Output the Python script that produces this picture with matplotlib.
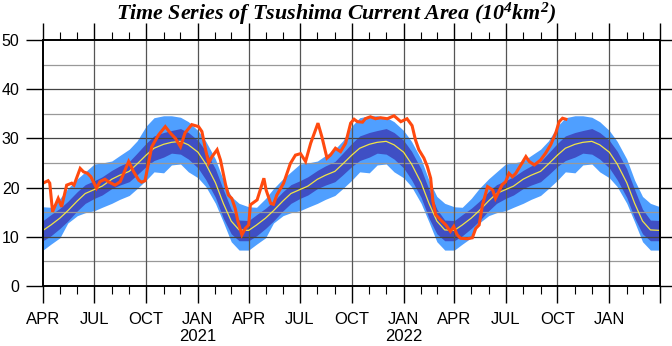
import numpy as np
import matplotlib
matplotlib.use("Agg")
import matplotlib.pyplot as plt

# climatology, one value per half month starting 1 April (days after 1 April)
clim_day = [0, 14, 30, 44, 61, 75, 91, 105, 122, 136, 153, 167, 183, 197,
            214, 228, 244, 258, 275, 289, 306, 320, 334, 348, 365]
clim_mean = [11.3, 12.4, 13.8, 15.3, 17.3, 18.8, 19.6, 20.3, 21.7, 22.5, 23.3, 24.8, 26.6, 28.0,
             28.8, 29.2, 29.4, 28.7, 27.2, 24.8, 21.0, 16.8, 13.2, 11.4, 11.3]
clim_sd_lo = [9.2, 10.2, 11.7, 13.2, 15.3, 16.8, 17.8, 18.5, 19.8, 20.5, 21.2, 22.6, 24.3, 25.5,
              26.2, 27.0, 26.8, 25.8, 24.0, 21.6, 18.0, 13.8, 10.6, 9.2, 9.2]
clim_sd_hi = [13.3, 14.5, 15.8, 17.2, 19.2, 20.6, 21.4, 22.2, 23.5, 24.4, 25.3, 27.0, 29.0, 30.5,
              31.2, 31.6, 32.0, 31.2, 29.6, 27.4, 23.8, 19.6, 15.6, 13.4, 13.3]
clim_ext_lo = [7.3, 8.5, 9.8, 12.8, 14.3, 14.9, 15.3, 16.0, 16.8, 17.6, 18.4, 19.8, 21.5, 23.2,
               23.0, 24.6, 24.8, 23.2, 22.0, 20.2, 16.8, 13.0, 9.0, 7.3, 7.3]
clim_ext_hi = [16.1, 16.0, 17.8, 19.8, 21.8, 23.2, 24.8, 25.0, 25.4, 26.5, 27.8, 29.5, 32.5, 34.2,
               34.6, 34.6, 34.3, 33.4, 31.6, 29.4, 25.8, 21.5, 18.2, 16.8, 16.1]
seasons = [2020, 2021, 2022]

# observed area, days after 1 April 2020
obs_day = [0, 9, 12, 17, 27, 33, 42, 51, 55, 66, 72, 79, 85, 95, 101, 110, 116, 128, 137,
           152, 161, 170, 175, 181, 193, 205, 217, 226, 235, 244, 252, 264, 276, 282, 288,
           294, 300, 309, 315, 324, 329, 335, 341, 346, 353, 359, 365, 368, 380, 392, 396,
           404, 409, 415, 427, 439, 448, 457, 466, 475, 488, 495, 504, 510, 519, 528, 537,
           546, 552, 558, 567, 572, 581, 590, 599, 611, 623, 635, 646, 655, 661, 667, 676,
           682, 688, 692, 697, 706, 715, 723, 729, 735, 741, 753, 762, 768, 774, 780, 789,
           798, 803, 809, 815, 821, 827, 833, 839, 848, 857, 863, 872, 883, 892, 901, 910,
           916, 922, 928]
obs_val = [20.9, 21.4, 20.9, 15.1, 17.8, 16.1, 20.5, 20.9, 20.5, 23.9, 23.2, 22.9, 22.2,
           19.9, 21.2, 21.7, 21.2, 20.5, 21.2, 25.3, 23.2, 21.5, 21.1, 21.4, 28.3, 30.7,
           32.4, 31.1, 30.0, 28.3, 31.1, 32.8, 32.4, 31.4, 28.0, 25.0, 26.3, 27.7, 25.6,
           20.6, 18.5, 17.8, 15.8, 13.1, 10.4, 11.7, 12.4, 16.5, 17.5, 21.9, 19.5, 16.8,
           16.6, 18.5, 20.9, 24.9, 26.6, 26.9, 25.3, 29.0, 33.1, 30.3, 26.0, 26.6, 28.0,
           27.3, 29.0, 33.1, 33.9, 33.4, 33.3, 34.0, 34.4, 34.0, 34.2, 34.0, 34.6, 33.4,
           34.0, 32.6, 29.7, 27.7, 26.0, 24.3, 21.9, 17.2, 14.5, 13.4, 12.4, 11.1, 12.1,
           10.4, 9.7, 9.6, 9.8, 11.7, 12.4, 16.5, 20.2, 19.5, 17.8, 19.2, 20.6, 21.2, 22.9,
           22.2, 22.9, 24.6, 26.3, 25.3, 24.6, 25.6, 27.0, 28.7, 31.1, 33.4, 34.1, 33.9]

tick_dates = ["2020-04-01", "2020-07-01", "2020-10-01", "2021-01-01", "2021-04-01",
              "2021-07-01", "2021-10-01", "2022-01-01", "2022-04-01", "2022-07-01",
              "2022-10-01", "2023-01-01", "2023-04-01"]
tick_labels = ["APR", "JUL", "OCT", "JAN\n2021", "APR", "JUL", "OCT", "JAN\n2022",
               "APR", "JUL", "OCT", "JAN", ""]

start = np.datetime64("2020-04-01")

# tile the climatology over the three seasons
cd, cm, c1l, c1h, c2l, c2h = [], [], [], [], [], []
for i, yr in enumerate(seasons):
    n = len(clim_day) if i == len(seasons) - 1 else len(clim_day) - 1
    s0 = np.datetime64(f"{yr}-04-01")
    cd += [s0 + np.timedelta64(d, "D") for d in clim_day[:n]]
    cm += clim_mean[:n]
    c1l += clim_sd_lo[:n]
    c1h += clim_sd_hi[:n]
    c2l += clim_ext_lo[:n]
    c2h += clim_ext_hi[:n]
cd = np.array(cd)
obs_t = start + np.array(obs_day).astype("timedelta64[D]")

plt.rcParams["font.family"] = ["Liberation Sans", "DejaVu Sans"]
plt.rcParams["mathtext.fontset"] = "custom"
plt.rcParams["mathtext.rm"] = "Liberation Serif:bold:italic"
plt.rcParams["mathtext.it"] = "Liberation Serif:bold:italic"

fig = plt.figure(figsize=(6.72, 3.46), dpi=100)
ax = fig.add_axes([43 / 672, 1 - 286 / 346, 617 / 672, 246 / 346])

ax.fill_between(cd, c2l, c2h, color="#4f9fff", lw=0, zorder=2)
ax.fill_between(cd, c1l, c1h, color="#3f4fc4", lw=0, zorder=3)
ax.plot(cd, cm, color="#f2e446", lw=0.9, zorder=5)
ax.plot(obs_t, obs_val, color="#ff4a0f", lw=2.2, zorder=6, solid_joinstyle="miter")

ax.set_ylim(0, 50)
ax.set_xlim(start, np.datetime64("2023-04-01"))

# grid every 5 units, vertical lines every quarter (drawn over the bands)
for v in range(5, 50, 5):
    ax.axhline(v, color="#444444" if v % 10 == 0 else "#999999", lw=0.9, zorder=4)
for d in tick_dates[1:-1]:
    ax.axvline(np.datetime64(d), color="#555555", lw=0.9, zorder=4)

tk = [np.datetime64(d) for d in tick_dates]
ax.set_xticks(tk)
ax.set_xticklabels(tick_labels, fontsize=12, linespacing=1.1)
months = np.arange(np.datetime64("2020-04"), np.datetime64("2023-04"), np.timedelta64(1, "M"))
ax.set_xticks(months.astype("datetime64[D]"), minor=True)
ax.tick_params(axis="x", which="major", direction="out", length=12, width=1,
               top=True, pad=7)
ax.tick_params(axis="x", which="minor", direction="out", length=6, width=0.8, top=True)

ax.set_yticks(range(0, 51, 10))
ax.tick_params(axis="y", which="major", direction="out", length=12, width=1,
               right=True, labelsize=11.5, pad=5)

for s in ax.spines.values():
    s.set_linewidth(1.4)
    s.set_zorder(7)

fig.text(0.5, 0.997, "Time Series of Tsushima Current Area (10$^{4}$km$^{2}$)",
         ha="center", va="top", fontsize=15.8, family="Liberation Serif",
         weight="bold", style="italic")

fig.savefig("out.png", dpi=100)
